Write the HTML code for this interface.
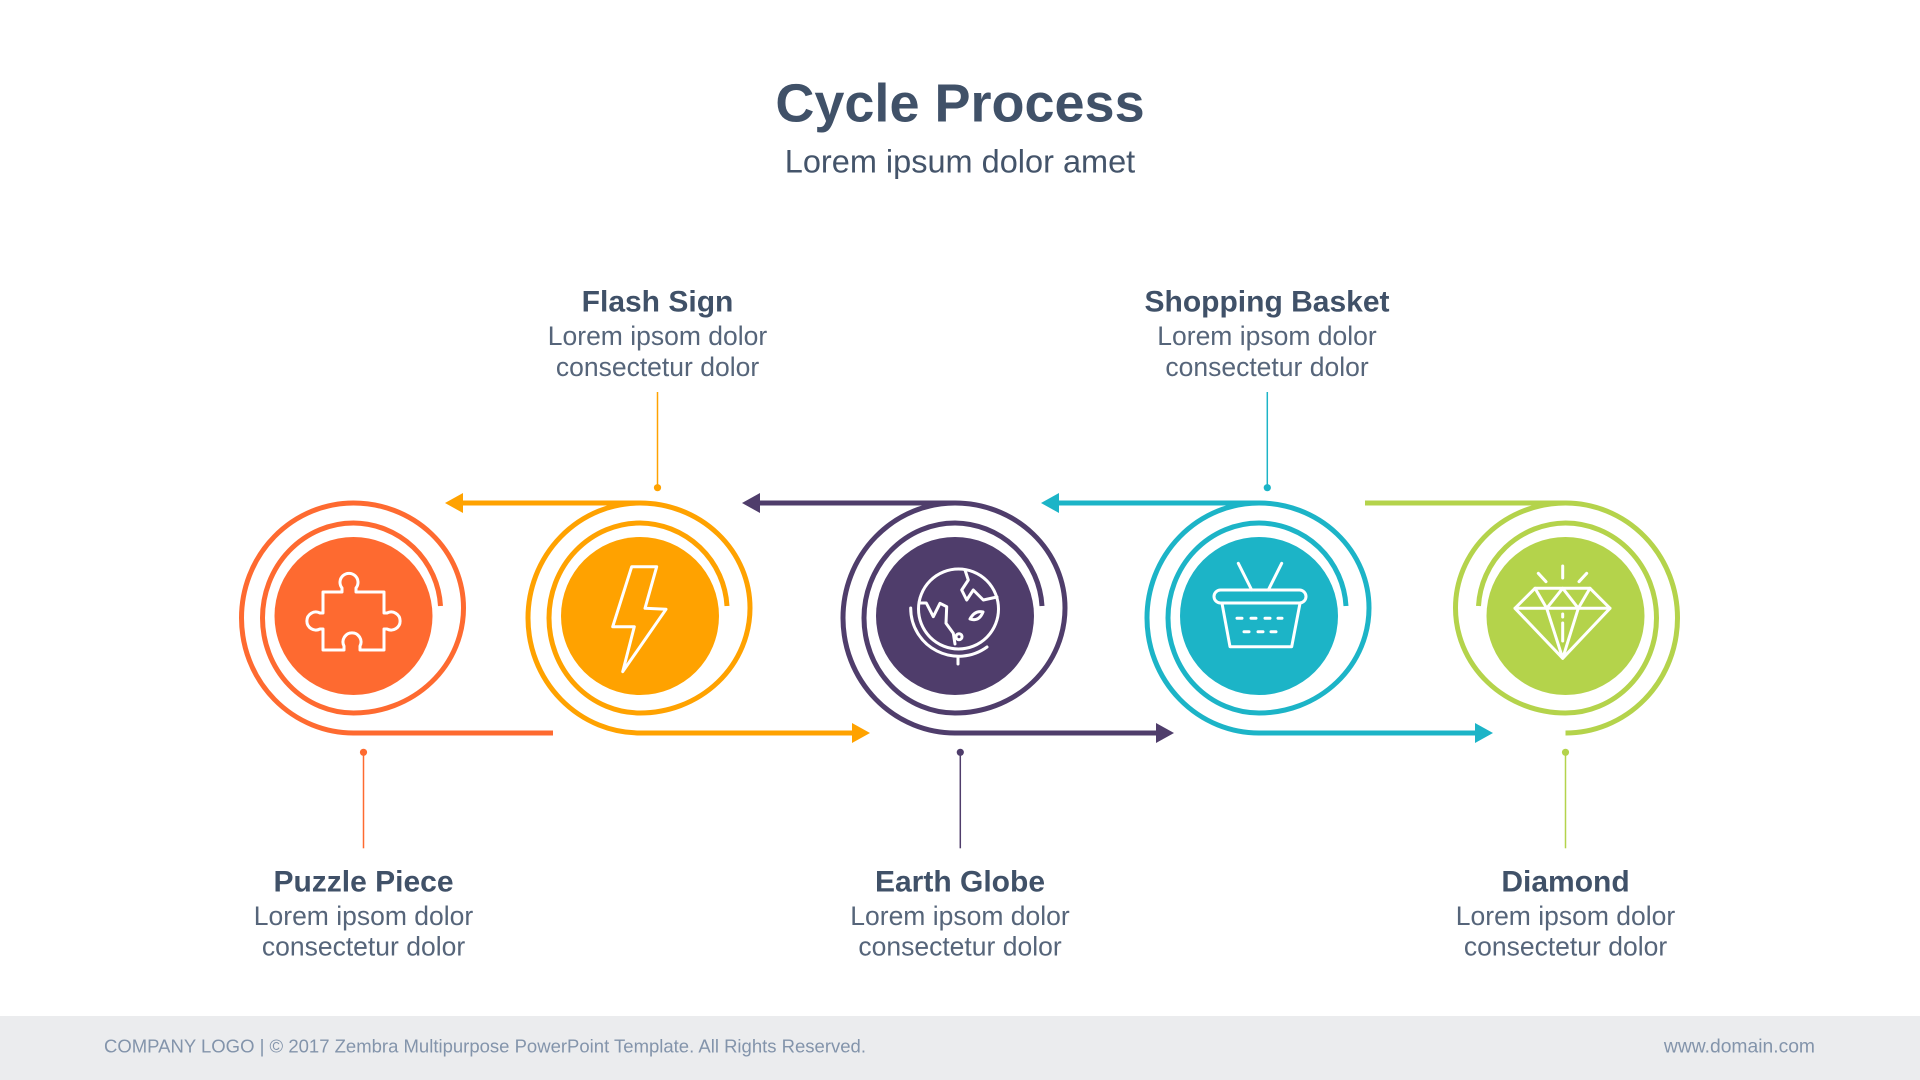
<!DOCTYPE html>
<html>
<head>
<meta charset="utf-8">
<style>
  html,body{margin:0;padding:0;background:#fff;}
  body{width:1920px;height:1080px;overflow:hidden;}
  svg{display:block;}
  .t{font-family:"Liberation Sans",Arial,sans-serif;}
</style>
</head>
<body>
<svg width="1920" height="1080" viewBox="0 0 1920 1080" xmlns="http://www.w3.org/2000/svg">
  <rect x="0" y="0" width="1920" height="1080" fill="#ffffff"/>

  <!-- Title -->
  <text class="t" x="960" y="121.5" text-anchor="middle" font-size="54" font-weight="bold" fill="#405168">Cycle Process</text>
  <text class="t" x="960" y="172.5" text-anchor="middle" font-size="32.5" fill="#44546a">Lorem ipsum dolor amet</text>

  <!-- ============ PUZZLE (cx=353.5, cy=616) ============ -->
  <g fill="none" stroke="#FE6A30" stroke-width="5">
    <path d="M553,733 L353.5,733 A112 115 0 0 1 353.5,503 A110 105 0 0 1 353.5,713 A91 95 0 0 1 353.5,523 A88 88 0 0 1 440.5,606"/>
  </g>
  <circle cx="353.5" cy="616" r="79" fill="#FE6A30"/>
  <path d="M323,592 L342,592 L342,588 A9 9 0 1 1 356,588 L356,592 L384,592 L384,613 L387,613 A9 9 0 1 1 387,629 L384,629 L384,650 L360,650 L360,646 A9 9 0 1 0 344,646 L344,650 L323,650 L323,629 L320,629 A9 9 0 1 1 320,613 L323,613 Z"
        fill="none" stroke="#fff" stroke-width="3" stroke-linejoin="round"/>

  <!-- ============ FLASH (cx=640) ============ -->
  <g fill="none" stroke="#FFA200" stroke-width="5">
    <path d="M640,733 A112 115 0 0 1 640,503 A110 105 0 0 1 640,713 A91 95 0 0 1 640,523 A88 88 0 0 1 727,606"/>
    <path d="M640,503 L462,503"/>
    <path d="M640,733 L853,733"/>
  </g>
  <polygon points="445,503 463,493 463,513" fill="#FFA200"/>
  <polygon points="870,733 852,723 852,743" fill="#FFA200"/>
  <circle cx="640" cy="616" r="79" fill="#FFA200"/>
  <polygon points="631.7,566.7 656.7,566.7 645,608.3 666,609.3 622.7,671.7 634.3,626.7 612.7,626.7"
           fill="none" stroke="#fff" stroke-width="3" stroke-linejoin="round"/>

  <!-- ============ GLOBE (cx=955) ============ -->
  <g fill="none" stroke="#4F3D6B" stroke-width="5">
    <path d="M955,733 A112 115 0 0 1 955,503 A110 105 0 0 1 955,713 A91 95 0 0 1 955,523 A88 88 0 0 1 1042,606"/>
    <path d="M955,503 L759,503"/>
    <path d="M955,733 L1157,733"/>
  </g>
  <polygon points="742,503 760,493 760,513" fill="#4F3D6B"/>
  <polygon points="1174,733 1156,723 1156,743" fill="#4F3D6B"/>
  <circle cx="955" cy="616" r="79" fill="#4F3D6B"/>
  <g fill="none" stroke="#fff" stroke-width="3" stroke-linecap="round" stroke-linejoin="round">
    <circle cx="958.5" cy="609" r="40"/>
    <path d="M910.7,608 A48 48 0 0 0 987,647"/>
    <path d="M958,657 L958,664"/>
    <path d="M919.5,603 L926.3,603 L933.3,616.7 L940,603.3 L946.7,606.7 L946,623.3 L953.3,633.3 L955,644"/>
    <path d="M965,570 L968.3,580 L961.7,590 L966.7,600 L973.3,590 L983.3,600 L997,597"/>
    <path d="M970,619 Q975,610 983,612 Q979,622 970,619 Z"/>
    <circle cx="959" cy="636.7" r="3"/>
  </g>

  <!-- ============ BASKET (cx=1259) ============ -->
  <g fill="none" stroke="#1CB4C7" stroke-width="5">
    <path d="M1259,733 A112 115 0 0 1 1259,503 A110 105 0 0 1 1259,713 A91 95 0 0 1 1259,523 A88 88 0 0 1 1346,606"/>
    <path d="M1259,503 L1058,503"/>
    <path d="M1259,733 L1476,733"/>
  </g>
  <polygon points="1041,503 1059,493 1059,513" fill="#1CB4C7"/>
  <polygon points="1493,733 1475,723 1475,743" fill="#1CB4C7"/>
  <circle cx="1259" cy="616" r="79" fill="#1CB4C7"/>
  <g fill="none" stroke="#fff" stroke-width="3" stroke-linecap="round" stroke-linejoin="round">
    <rect x="1214" y="590" width="92" height="13" rx="6.5"/>
    <path d="M1222,603.3 L1230,646.7 L1291.7,646.7 L1300,603.3"/>
    <path d="M1238.3,563.3 L1251.7,590"/>
    <path d="M1281.7,563.3 L1268.3,590"/>
    <path d="M1237,618.3 L1242,618.3 M1251,618.3 L1256,618.3 M1265,618.3 L1270,618.3 M1278,618.3 L1282,618.3"/>
    <path d="M1244,631.7 L1249,631.7 M1258,631.7 L1263,631.7 M1271,631.7 L1276,631.7"/>
  </g>

  <!-- ============ DIAMOND (cx=1565.5) mirrored ============ -->
  <g fill="none" stroke="#B4D34B" stroke-width="5">
    <path d="M1565.5,733 A112 115 0 0 0 1565.5,503 A110 105 0 0 0 1565.5,713 A91 95 0 0 0 1565.5,523 A88 88 0 0 0 1478.5,606"/>
    <path d="M1565.5,503 L1365,503"/>
  </g>
  <circle cx="1565.5" cy="616" r="79" fill="#B4D34B"/>
  <g fill="none" stroke="#fff" stroke-width="3" stroke-linecap="round" stroke-linejoin="round">
    <path d="M1535,588.3 L1590,588.3 L1610,608.3 L1562.7,658.3 L1515,608.3 Z"/>
    <path d="M1515,608.3 L1610,608.3"/>
    <path d="M1535,588.3 L1546.7,608.3 L1562.7,588.3 L1578.3,608.3 L1590,588.3"/>
    <path d="M1546.7,608.3 L1562.7,658.3 L1578.3,608.3"/>
    <path d="M1562.7,614 L1562.7,617 M1562.7,623 L1562.7,641"/>
    <path d="M1562.7,566 L1562.7,578"/>
    <path d="M1538.3,573.3 L1546,581.7"/>
    <path d="M1586.7,573.3 L1579,581.7"/>
  </g>

  <!-- ============ Leader lines & dots ============ -->
  <line x1="657.5" y1="392" x2="657.5" y2="487.7" stroke="#FFA200" stroke-width="1.5"/>
  <circle cx="657.5" cy="487.7" r="3.6" fill="#FFA200"/>
  <line x1="1267.3" y1="392" x2="1267.3" y2="487.7" stroke="#1CB4C7" stroke-width="1.5"/>
  <circle cx="1267.3" cy="487.7" r="3.6" fill="#1CB4C7"/>

  <line x1="363.5" y1="752.3" x2="363.5" y2="848.3" stroke="#FE6A30" stroke-width="1.5"/>
  <circle cx="363.5" cy="752.3" r="3.6" fill="#FE6A30"/>
  <line x1="960.3" y1="752.3" x2="960.3" y2="848.3" stroke="#4F3D6B" stroke-width="1.5"/>
  <circle cx="960.3" cy="752.3" r="3.6" fill="#4F3D6B"/>
  <line x1="1565.5" y1="752.3" x2="1565.5" y2="848.3" stroke="#B4D34B" stroke-width="1.5"/>
  <circle cx="1565.5" cy="752.3" r="3.6" fill="#B4D34B"/>

  <!-- ============ Labels ============ -->
  <g class="t" text-anchor="middle">
    <text x="657.5" y="311.5" font-size="30" font-weight="bold" fill="#405168">Flash Sign</text>
    <text x="657.5" y="345" font-size="26.5" fill="#56657a">Lorem ipsom dolor</text>
    <text x="657.5" y="376" font-size="26.5" fill="#56657a">consectetur dolor</text>

    <text x="1267" y="311.5" font-size="30" font-weight="bold" fill="#405168">Shopping Basket</text>
    <text x="1267" y="345" font-size="26.5" fill="#56657a">Lorem ipsom dolor</text>
    <text x="1267" y="376" font-size="26.5" fill="#56657a">consectetur dolor</text>

    <text x="363.5" y="891.5" font-size="30" font-weight="bold" fill="#405168">Puzzle Piece</text>
    <text x="363.5" y="925" font-size="26.5" fill="#56657a">Lorem ipsom dolor</text>
    <text x="363.5" y="955.5" font-size="26.5" fill="#56657a">consectetur dolor</text>

    <text x="960" y="891.5" font-size="30" font-weight="bold" fill="#405168">Earth Globe</text>
    <text x="960" y="925" font-size="26.5" fill="#56657a">Lorem ipsom dolor</text>
    <text x="960" y="955.5" font-size="26.5" fill="#56657a">consectetur dolor</text>

    <text x="1565.5" y="891.5" font-size="30" font-weight="bold" fill="#405168">Diamond</text>
    <text x="1565.5" y="925" font-size="26.5" fill="#56657a">Lorem ipsom dolor</text>
    <text x="1565.5" y="955.5" font-size="26.5" fill="#56657a">consectetur dolor</text>
  </g>

  <!-- ============ Footer ============ -->
  <rect x="0" y="1016" width="1920" height="64" fill="#ebecee"/>
  <text class="t" x="104" y="1052.5" font-size="18" fill="#8394ab" textLength="762" lengthAdjust="spacingAndGlyphs">COMPANY LOGO | © 2017 Zembra Multipurpose PowerPoint Template. All Rights Reserved.</text>
  <text class="t" x="1815" y="1052.5" font-size="19.3" fill="#8394ab" text-anchor="end">www.domain.com</text>
</svg>
</body>
</html>
